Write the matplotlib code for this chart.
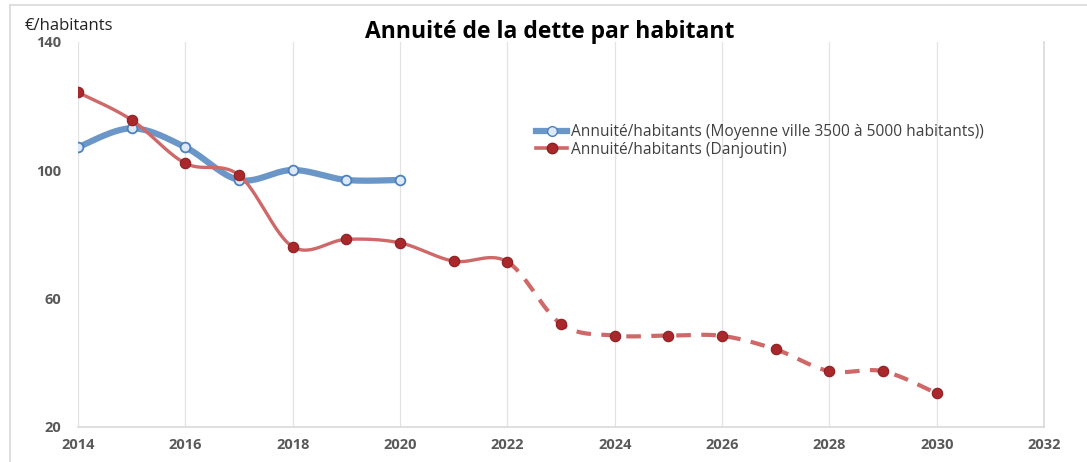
import numpy as np
import matplotlib.pyplot as plt
from matplotlib.lines import Line2D

# --- données ---
years_moy = [2014, 2015, 2016, 2017, 2018, 2019, 2020]
annuite_moy = [107.2, 113.1, 107.2, 97.0, 100.1, 97.0, 97.0]

years_dan = [2014, 2015, 2016, 2017, 2018, 2019, 2020, 2021, 2022,
             2023, 2024, 2025, 2026, 2027, 2028, 2029, 2030]
annuite_dan = [124.3, 115.7, 102.2, 98.5, 76.2, 78.5, 77.4, 71.7, 71.5,
               52.1, 48.5, 48.5, 48.4, 44.2, 37.4, 37.4, 30.5]
split_year = 2022  # projection en pointillés après cette année

x_ticks = [2014, 2016, 2018, 2020, 2022, 2024, 2026, 2028, 2030, 2032]
y_ticks = [20, 60, 100, 140]

label_moy = "Annuité/habitants (Moyenne ville 3500 à 5000 habitants))"
label_dan = "Annuité/habitants (Danjoutin)"

blue = "#6b96c8"
red_line = "#cf6868"
red_mark = "#a8282b"


def smooth(x, y, n=30):
    # lissage type Excel (Catmull-Rom / Bezier)
    x = np.asarray(x, float)
    y = np.asarray(y, float)
    xs, ys = [], []
    for i in range(len(x) - 1):
        p0 = np.array([x[max(i - 1, 0)], y[max(i - 1, 0)]])
        p1 = np.array([x[i], y[i]])
        p2 = np.array([x[i + 1], y[i + 1]])
        p3 = np.array([x[min(i + 2, len(x) - 1)], y[min(i + 2, len(x) - 1)]])
        c1 = p1 + (p2 - p0) / 6
        c2 = p2 - (p3 - p1) / 6
        t = np.linspace(0, 1, n)[:, None]
        pts = ((1 - t) ** 3 * p1 + 3 * (1 - t) ** 2 * t * c1
               + 3 * (1 - t) * t ** 2 * c2 + t ** 3 * p2)
        if i > 0:
            pts = pts[1:]
        xs.append(pts[:, 0])
        ys.append(pts[:, 1])
    return np.concatenate(xs), np.concatenate(ys)


fig = plt.figure(figsize=(10.87, 4.62), dpi=100)
ax = fig.add_axes([78 / 1087, 1 - 427 / 462, (1044 - 78) / 1087, (427 - 42) / 462])

# cadre extérieur
fig.add_artist(Line2D([10 / 1087, 1], [1 - 5 / 462, 1 - 5 / 462], color="#d9d9d9", lw=1.2))
fig.add_artist(Line2D([10 / 1087, 10 / 1087], [0, 1 - 5 / 462], color="#d9d9d9", lw=1.2))

# série moyenne
sx, sy = smooth(years_moy, annuite_moy)
ax.plot(sx, sy, color=blue, lw=4.5, solid_capstyle="round", zorder=3)
ax.plot(years_moy, annuite_moy, "o", ms=7, mfc="#dce9fb", mec="#4f81bd", mew=1.3, zorder=4)

# série Danjoutin
sx, sy = smooth(years_dan, annuite_dan)
real = sx <= split_year
ax.plot(sx[real], sy[real], color=red_line, lw=2.4, zorder=5)
ax.plot(sx[sx >= split_year], sy[sx >= split_year], color=red_line, lw=3,
        dashes=(3.5, 2.5), zorder=5)
ax.plot(years_dan, annuite_dan, "o", ms=7.5, mfc=red_mark, mec="#8c1f22", mew=0.8, zorder=6)

ax.set_xlim(2014, 2032)
ax.set_ylim(20, 140)
ax.set_xticks(x_ticks)
ax.set_yticks(y_ticks)
ax.grid(axis="x", color="#e3e3e3", lw=0.9)
ax.set_axisbelow(True)
for s in ["top", "left"]:
    ax.spines[s].set_visible(False)
for s in ["bottom", "right"]:
    ax.spines[s].set_color("#d9d9d9")
    ax.spines[s].set_linewidth(1.2)
ax.tick_params(length=0, labelsize=10.5, labelcolor="#595959", pad=8)
ax.tick_params(axis="y", pad=12)
for lab in ax.get_xticklabels() + ax.get_yticklabels():
    lab.set_fontweight("bold")
    lab.set_fontfamily("Open Sans")

fig.text(550 / 1087, 1 - 32 / 462, "Annuité de la dette par habitant",
         ha="center", va="center", fontsize=16.5, fontweight="bold", family="Open Sans")
fig.text(25 / 1087, 1 - 26 / 462, "€/habitants", ha="left", va="center",
         fontsize=12, family="Open Sans", color="#222222")

handles = [
    Line2D([], [], color=blue, lw=4.5, marker="o", ms=7, mfc="#dce9fb", mec="#4f81bd"),
    Line2D([], [], color=red_line, lw=2.6, marker="o", ms=7.5, mfc=red_mark, mec="#8c1f22"),
]
leg = ax.legend(handles, [label_moy, label_dan], loc="upper left",
                bbox_to_anchor=(522 / 1087, 1 - 110 / 462), bbox_transform=fig.transFigure,
                frameon=False, handlelength=2.0, handletextpad=0.25, labelspacing=0.1,
                prop={"family": "Open Sans", "size": 11.2})
for t in leg.get_texts():
    t.set_color("#404040")

fig.savefig("out.png", dpi=100)
